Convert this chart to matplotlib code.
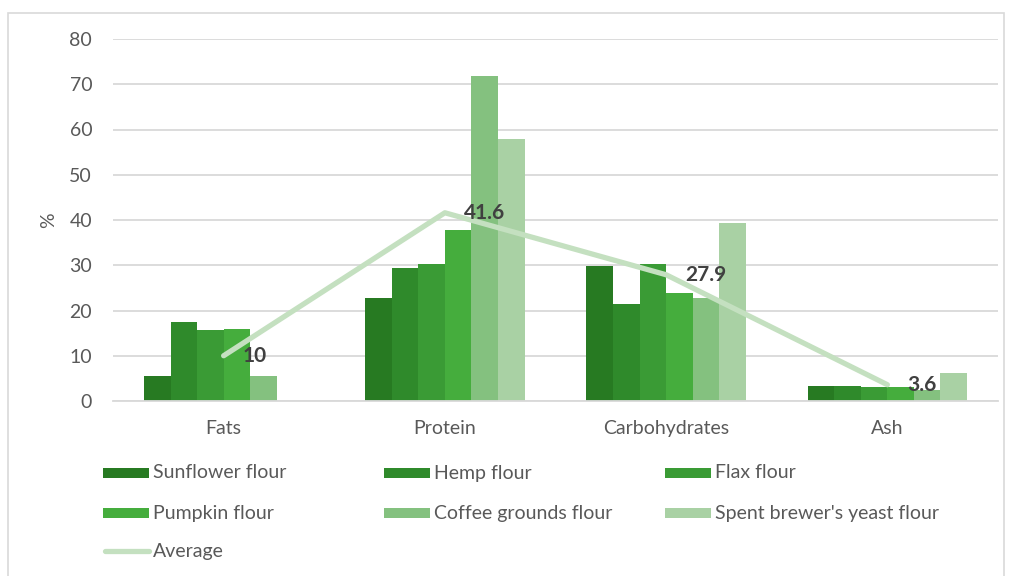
import matplotlib
matplotlib.use("Agg")
import matplotlib.pyplot as plt
from matplotlib.patches import Rectangle
from matplotlib.lines import Line2D
import numpy as np

plt.rcParams['font.family'] = ['Lato', 'DejaVu Sans']

categories = ["Fats", "Protein", "Carbohydrates", "Ash"]
series_names = ["Sunflower flour", "Hemp flour", "Flax flour", "Pumpkin flour",
                "Coffee grounds flour", "Spent brewer's yeast flour"]
sunflower = [5.5, 22.7, 29.8, 3.4]
hemp = [17.5, 29.5, 21.4, 3.4]
flax = [15.7, 30.3, 30.3, 3.2]
pumpkin = [15.9, 37.7, 23.9, 3.2]
coffee = [5.5, 71.8, 22.8, 2.5]
spent = [0.0, 58.0, 39.3, 6.1]
average = [10.0, 41.6, 27.9, 3.6]
average_labels = ["10", "41.6", "27.9", "3.6"]
yticks = [0, 10, 20, 30, 40, 50, 60, 70, 80]

series = [sunflower, hemp, flax, pumpkin, coffee, spent]
colors = ["#277a22", "#2f8a2b", "#3a9b35", "#45ad3d", "#84c17f", "#a9d1a4"]
line_color = "#c4e0c0"
text_gray = "#595959"

W, H = 1011, 576
fig = plt.figure(figsize=(W / 100, H / 100), dpi=100)
fig.patches.append(Rectangle((8 / W, -0.05), (1004 - 8) / W, 1.05 - 13 / H,
                             transform=fig.transFigure, fill=False,
                             edgecolor="#d9d9d9", linewidth=1.2))

ax = fig.add_axes([113 / W, 1 - 401 / H, (998 - 113) / W, (401 - 39) / H])
x = np.arange(len(categories))
n = len(series)
w = 0.72 / n
for i, (vals, c) in enumerate(zip(series, colors)):
    ax.bar(x - 0.36 + w * (i + 0.5), vals, width=w, color=c, zorder=2, linewidth=0)

ax.plot(x, average, color=line_color, linewidth=3.8, solid_capstyle="round",
        solid_joinstyle="round", zorder=3)
for xi, yi, lab in zip(x, average, average_labels):
    ax.annotate(lab, (xi, yi), xytext=(14, 0), textcoords="offset points",
                ha="left", va="center", fontsize=15, fontweight="bold",
                color="#404040", zorder=4)

ax.set_xlim(-0.5, len(categories) - 0.5)
ax.set_ylim(0, 80)
ax.set_yticks(yticks)
ax.set_xticks(x)
ax.set_xticklabels(categories)
ax.grid(axis="y", color="#d9d9d9", linewidth=1.3, zorder=0)
ax.set_axisbelow(True)
for s in ["top", "right", "left"]:
    ax.spines[s].set_visible(False)
ax.spines["bottom"].set_color("#d9d9d9")
ax.spines["bottom"].set_linewidth(1.3)
ax.tick_params(axis="both", length=0, labelsize=14, labelcolor=text_gray)
ax.tick_params(axis="y", pad=15)
ax.tick_params(axis="x", pad=14)
ax.set_ylabel("%", fontsize=14, color=text_gray, labelpad=9)

# Legend (drawn row-wise like the original)
legend_items = [(series_names[0], colors[0], "bar"), (series_names[1], colors[1], "bar"),
                (series_names[2], colors[2], "bar"), (series_names[3], colors[3], "bar"),
                (series_names[4], colors[4], "bar"), (series_names[5], colors[5], "bar"),
                ("Average", line_color, "line")]
col_x = [103, 384, 665]
row_y = [473, 513, 551]
for k, (name, c, kind) in enumerate(legend_items):
    px = col_x[k % 3]
    py = row_y[k // 3]
    if kind == "bar":
        fig.patches.append(Rectangle((px / W, 1 - (py + 5) / H), 46 / W, 10 / H,
                                     transform=fig.transFigure, color=c, linewidth=0))
    else:
        fig.lines.append(Line2D([(px + 2) / W, (px + 46) / W], [1 - py / H, 1 - py / H],
                                transform=fig.transFigure, color=c, linewidth=3.8,
                                solid_capstyle="round"))
    fig.text((px + 50) / W, 1 - py / H, name, ha="left", va="center",
             fontsize=14, color=text_gray)

fig.savefig("out.png", dpi=100)
